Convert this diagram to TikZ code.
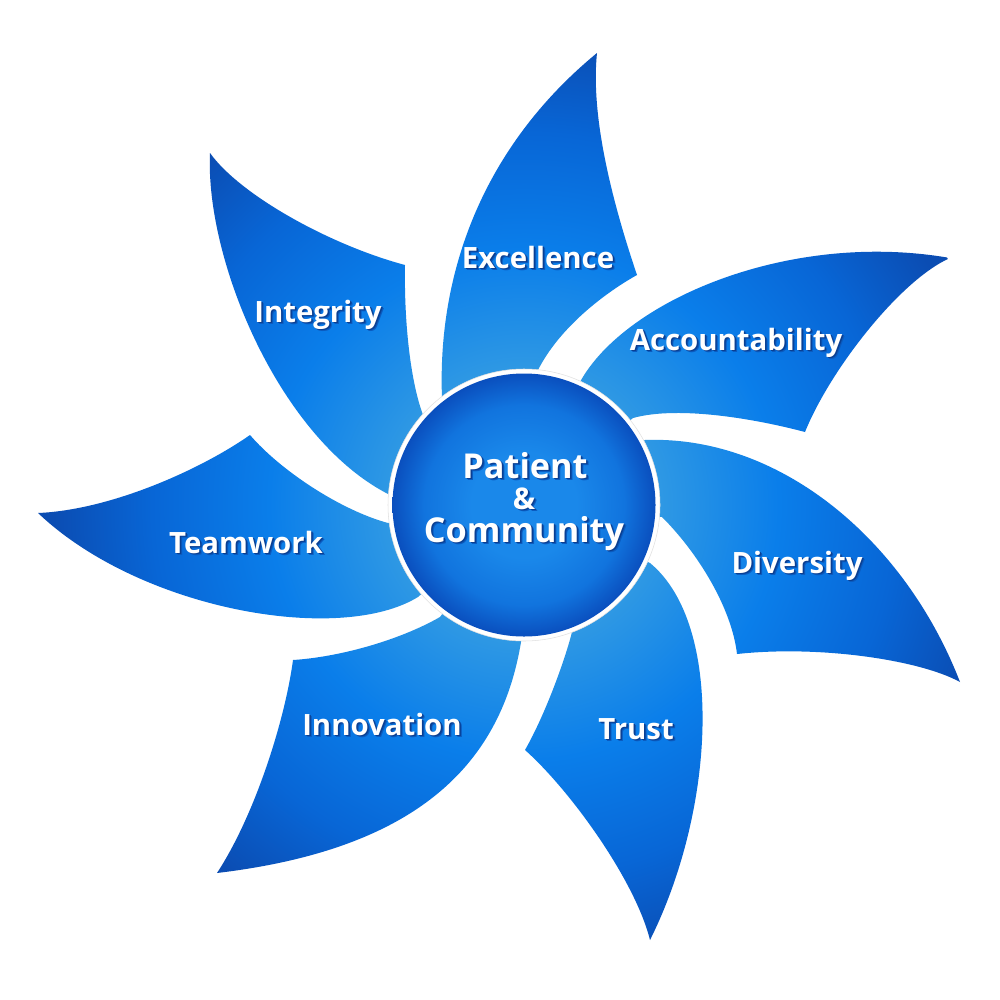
\documentclass[tikz,border=0pt]{standalone}
\usepackage{fontspec}
\setmainfont{Open Sans}
\definecolor{pLight}{HTML}{2E98E4}
\definecolor{pMid}{HTML}{0A7EEA}
\definecolor{pDeep}{HTML}{0866D6}
\definecolor{pTip}{HTML}{0B4DB3}
\definecolor{hC}{HTML}{1A88EA}
\definecolor{hM}{HTML}{1174DE}
\definecolor{hE}{HTML}{0A4FBE}
\definecolor{shdA}{HTML}{0A3F92}
\definecolor{shdB}{HTML}{0A5BC0}
\pgfdeclareradialshading{petalshade}{\pgfpointorigin}{color(0bp)=(pLight); color(7bp)=(pLight); color(13bp)=(pMid); color(19bp)=(pDeep); color(24bp)=(pTip); color(50bp)=(pTip)}
\pgfdeclareradialshading{hubshade}{\pgfpointorigin}{color(0bp)=(hC); color(10bp)=(hC); color(19bp)=(hM); color(25bp)=(hE); color(50bp)=(hE)}
\tikzset{
  petalfill/.style={shading=petalshade},
  lbl/.style={anchor=base, inner sep=0pt, text=white, font=\bfseries\fontsize{16.7}{20}\selectfont},
  hublbl/.style={anchor=base, inner sep=0pt, text=white, font=\bfseries\fontsize{19.5}{22}\selectfont},
  amplbl/.style={anchor=base, inner sep=0pt, text=white, font=\bfseries\fontsize{17}{20}\selectfont},
}
\newcommand\shtext[1]{\leavevmode
  \rlap{\hspace{0.5mm}\raisebox{-0.5mm}{\color{shdB}#1}}%
  \rlap{\hspace{0.3mm}\raisebox{-0.3mm}{\color{shdA}#1}}%
  #1}
\newcommand\petal[3]{%
  \begin{scope}
    \clip (524,505) -- #1 -- #2 -- #3 -- cycle;
    \shade[petalfill] (524,505) circle (490);
  \end{scope}}
\begin{document}
\begin{tikzpicture}[x=0.2mm,y=-0.2mm]
\useasboundingbox (0,0) rectangle (1000,1000);
\fill[white] (0,0) rectangle (1000,1000);
% Excellence
\petal{(442,398) .. controls (437,270) and (485,145) .. (597,53)}
      {(597,53) .. controls (590,120) and (615,210) .. (637,275)}
      {(637,275) .. controls (610,290) and (560,325) .. (537,372)}
% Integrity
\petal{(390,495) .. controls (280,440) and (205,260) .. (210,153)}
      {(210,153) .. controls (240,195) and (330,245) .. (405,265)}
      {(405,265) .. controls (404,320) and (410,380) .. (423,415)}
% Accountability
\petal{(580,382) .. controls (625,300) and (790,230) .. (950,258)}
      {(950,258) .. controls (900,280) and (830,370) .. (805,432)}
      {(805,432) .. controls (760,420) and (680,405) .. (633,418)}
% Diversity
\petal{(645,440) .. controls (780,435) and (905,540) .. (960,682)}
      {(960,682) .. controls (920,660) and (820,645) .. (737,654)}
      {(737,654) .. controls (732,610) and (700,555) .. (662,517)}
% Trust
\petal{(650,563) .. controls (725,625) and (715,810) .. (650,940)}
      {(650,940) .. controls (635,880) and (570,790) .. (525,750)}
      {(525,750) .. controls (545,715) and (565,660) .. (572,632)}
% Innovation
\petal{(521,642) .. controls (500,770) and (410,850) .. (217,873)}
      {(217,873) .. controls (255,815) and (285,720) .. (293,660)}
      {(293,660) .. controls (340,657) and (400,640) .. (440,617)}
% Teamwork
\petal{(418,597) .. controls (340,645) and (140,610) .. (38,513)}
      {(38,513) .. controls (110,510) and (200,470) .. (250,435)}
      {(250,435) .. controls (280,470) and (340,510) .. (388,523)}
% hub
\node[circle, fill=white, minimum size=54.4mm, inner sep=0pt, draw=black!12, line width=0.3pt] (ring) at (524,505) {};
\node[circle, shading=hubshade, minimum size=52.6mm, inner sep=0pt] (hub) at (524,505) {};
% labels
\node[lbl] (exc) at (538,268) {\shtext{Excellence}};
\node[lbl] (integ) at (318,322) {\shtext{Integrity}};
\node[lbl] (acc) at (736,350) {\shtext{Accountability}};
\node[lbl] (div) at (797,573) {\shtext{Diversity}};
\node[lbl] (trust) at (636,739) {\shtext{Trust}};
\node[lbl] (innov) at (382,735) {\shtext{Innovation}};
\node[lbl] (team) at (246,553) {\shtext{Teamwork}};
\node[hublbl] (pat) at (525,478) {\shtext{Patient}};
\node[amplbl] (amp) at (524,509) {\shtext{\&}};
\node[hublbl] (comm) at (524,542) {\shtext{Community}};
\end{tikzpicture}
\end{document}
